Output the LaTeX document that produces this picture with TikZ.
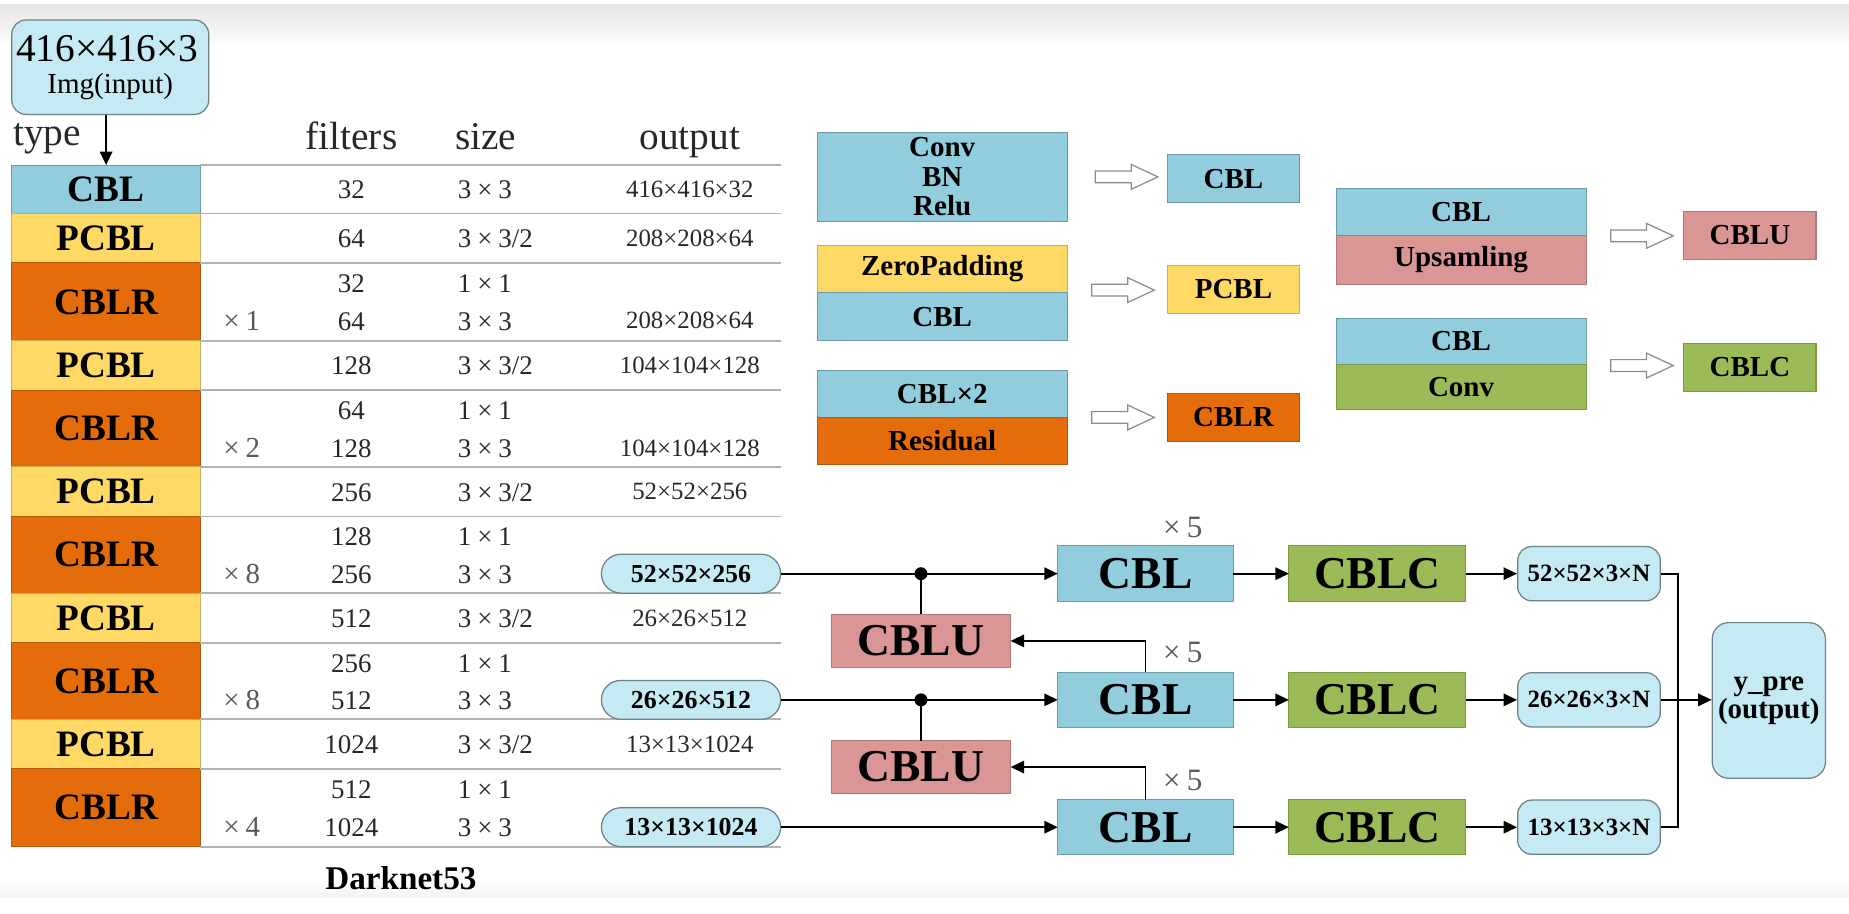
\documentclass[tikz,border=0pt]{standalone}
\usepackage{fontspec}
\setmainfont{Liberation Serif}
\usetikzlibrary{arrows.meta,shapes.arrows,shapes.misc}
\definecolor{cblue}{RGB}{146,205,221}
\definecolor{cyel}{RGB}{255,217,102}
\definecolor{corg}{RGB}{228,108,10}
\definecolor{cpink}{RGB}{217,150,148}
\definecolor{cgreen}{RGB}{155,187,89}
\definecolor{ccyan}{RGB}{198,234,243}
\definecolor{tgray}{RGB}{40,40,40}
\definecolor{sgray}{RGB}{178,178,178}
\newcommand\mytimes{\hspace{0.22em}×\hspace{0.22em}}
\begin{document}
\begin{tikzpicture}[x=0.2mm,y=-0.2mm,
  arr/.style={-{Triangle[length=6.5pt,width=6pt]}, line width=0.8pt},
  ln/.style={line width=0.8pt},
  sep/.style={draw=sgray, line width=0.9pt},
  shp/.style={rectangle, inner sep=0pt, outer sep=0pt, line width=0.5pt, text=black},
  blu/.style={shp, fill=cblue, draw=cblue!75!black},
  yel/.style={shp, fill=cyel, draw=cyel!80!black},
  org/.style={shp, fill=corg, draw=corg!80!black},
  pnk/.style={shp, fill=cpink, draw=cpink!80!black},
  grn/.style={shp, fill=cgreen, draw=cgreen!80!black},
  cell/.style={minimum width=32mm, anchor=north west, font=\bfseries\fontsize{18}{18}\selectfont},
  tt/.style={anchor=base, inner sep=0pt, text=tgray, font=\fontsize{13}{15}\selectfont},
  tw/.style={anchor=base west, inner sep=0pt, text=tgray, font=\fontsize{13}{15}\selectfont},
  to/.style={anchor=base, inner sep=0pt, text=tgray, font=\fontsize{12}{14}\selectfont},
  tm/.style={anchor=base, inner sep=0pt, text=black!65, font=\fontsize{14}{15}\selectfont},
  hd/.style={anchor=base, inner sep=0pt, text=tgray, font=\fontsize{19}{20}\selectfont},
  pill/.style={rounded rectangle, fill=ccyan, draw=ccyan!55!black, line width=0.6pt, inner sep=0pt, minimum width=30.4mm, minimum height=6.6mm, font=\bfseries\fontsize{12.5}{14}\selectfont},
  opill/.style={rectangle, rounded corners=2.4mm, fill=ccyan, draw=ccyan!55!black, line width=0.6pt, inner sep=0pt, minimum width=24.2mm, minimum height=9.2mm, font=\bfseries\fontsize{12}{14}\selectfont},
  big/.style={minimum width=29.8mm, minimum height=9.4mm, font=\bfseries\fontsize{22}{22}\selectfont},
  lg/.style={minimum width=42.4mm, font=\bfseries\fontsize{14}{14.2}\selectfont, align=center},
  sm/.style={minimum width=22.4mm, minimum height=8.2mm, font=\bfseries\fontsize{14}{14.2}\selectfont},
  harrow/.style={single arrow, draw=black!45, fill=white, line width=0.6pt, inner sep=0.9mm, minimum height=10.6mm, single arrow head extend=1.1mm, single arrow tip angle=50}
]
\useasboundingbox (0,0) rectangle (1568,775);
% screenshot bands
\shade[top color=black!10, bottom color=white] (0,4) rectangle (1568,40);
\shade[top color=white, bottom color=black!5] (0,746) rectangle (1568,761);

% input
\node[rectangle, rounded corners=2.4mm, fill=ccyan, draw=ccyan!55!black, line width=0.6pt, minimum width=33.4mm, minimum height=16mm, inner sep=0pt] (inp) at (93.5,57) {};
\node[inner sep=0pt, font=\fontsize{19}{20}\selectfont] (inpa) at (91,41) {416×416×3};
\node[inner sep=0pt, font=\fontsize{14}{16}\selectfont] (inpb) at (93.5,73) {Img(input)};

% headers
\node[hd] (htype) at (40,123) {type};
\node[hd] (hfil) at (298,127) {filters};
\node[hd] (hsize) at (412,127) {size};
\node[hd] (hout) at (585,127) {output};

% type cells
\node[cell, blu, minimum height=8.2mm] (c1) at (10,140) {CBL};
\node[cell, yel, minimum height=8.4mm] (c2) at (c1.south west) {PCBL};
\node[cell, org, minimum height=13.2mm] (c3) at (c2.south west) {CBLR};
\node[cell, yel, minimum height=8.4mm] (c4) at (c3.south west) {PCBL};
\node[cell, org, minimum height=13mm] (c5) at (c4.south west) {CBLR};
\node[cell, yel, minimum height=8.4mm] (c6) at (c5.south west) {PCBL};
\node[cell, org, minimum height=13mm] (c7) at (c6.south west) {CBLR};
\node[cell, yel, minimum height=8.4mm] (c8) at (c7.south west) {PCBL};
\node[cell, org, minimum height=13mm] (c9) at (c8.south west) {CBLR};
\node[cell, yel, minimum height=8.4mm] (c10) at (c9.south west) {PCBL};
\node[cell, org, minimum height=13.2mm] (c11) at (c10.south west) {CBLR};

\draw[arr] (inp.south -| c1.north) -- (c1.north);

% separators
\coordinate (rx) at (662,0);
\foreach \c in {c1,c2,c3,c4,c5,c6,c7,c8,c9,c10,c11}{
  \draw[sep] (\c.north east) -- (\c.north east -| rx);
}
\draw[sep] (c11.south east) -- (c11.south east -| rx);

% row 1
\node[tt] (f1) at (298,168.5) {32};
\node[tw] (s1) at (388,168.5) {3\mytimes 3};
\node[to] (o1t) at (585,167.5) {416×416×32};
% row 2
\node[tt] (f2) at (298,210) {64};
\node[tw] (s2) at (388,210) {3\mytimes 3/2};
\node[to] (o2t) at (585,209) {208×208×64};
% row 3
\node[tt] (f3a) at (298,248) {32};
\node[tw] (s3a) at (388,248) {1\mytimes 1};
\node[tm] (m3) at (205,280) {×\hspace{0.2em}1};
\node[tt] (f3b) at (298,280) {64};
\node[tw] (s3b) at (388,280) {3\mytimes 3};
\node[to] (o3t) at (585,279) {208×208×64};
% row 4
\node[tt] (f4) at (298,318) {128};
\node[tw] (s4) at (388,318) {3\mytimes 3/2};
\node[to] (o4t) at (585,317) {104×104×128};
% row 5
\node[tt] (f5a) at (298,356) {64};
\node[tw] (s5a) at (388,356) {1\mytimes 1};
\node[tm] (m5) at (205,388) {×\hspace{0.2em}2};
\node[tt] (f5b) at (298,388) {128};
\node[tw] (s5b) at (388,388) {3\mytimes 3};
\node[to] (o5t) at (585,387) {104×104×128};
% row 6
\node[tt] (f6) at (298,425) {256};
\node[tw] (s6) at (388,425) {3\mytimes 3/2};
\node[to] (o6t) at (585,424) {52×52×256};
% row 7
\node[tt] (f7a) at (298,463) {128};
\node[tw] (s7a) at (388,463) {1\mytimes 1};
\node[tm] (m7) at (205,495) {×\hspace{0.2em}8};
\node[tt] (f7b) at (298,495) {256};
\node[tw] (s7b) at (388,495) {3\mytimes 3};
% row 8
\node[tt] (f8) at (298,532) {512};
\node[tw] (s8) at (388,532) {3\mytimes 3/2};
\node[to] (o8t) at (585,531) {26×26×512};
% row 9
\node[tt] (f9a) at (298,570) {256};
\node[tw] (s9a) at (388,570) {1\mytimes 1};
\node[tm] (m9) at (205,602) {×\hspace{0.2em}8};
\node[tt] (f9b) at (298,602) {512};
\node[tw] (s9b) at (388,602) {3\mytimes 3};
% row 10
\node[tt] (f10) at (298,639) {1024};
\node[tw] (s10) at (388,639) {3\mytimes 3/2};
\node[to] (o10t) at (585,638) {13×13×1024};
% row 11
\node[tt] (f11a) at (298,677) {512};
\node[tw] (s11a) at (388,677) {1\mytimes 1};
\node[tm] (m11) at (205,709) {×\hspace{0.2em}4};
\node[tt] (f11b) at (298,709) {1024};
\node[tw] (s11b) at (388,709) {3\mytimes 3};

\node[inner sep=0pt, font=\bfseries\fontsize{16}{18}\selectfont] (dk) at (340,745) {Darknet53};

% pills
\node[pill] (p1) at (586,486.5) {52×52×256};
\node[pill] (p2) at (586,593.5) {26×26×512};
\node[pill] (p3) at (586,701.5) {13×13×1024};

% head
\node[blu, big] (b1) at (971.5,486.5) {CBL};
\node[blu, big] (b2) at (971.5,593.5) {CBL};
\node[blu, big] (b3) at (971.5,701.5) {CBL};
\node[grn, big, minimum width=30mm] (k1) at (1168,486.5) {CBLC};
\node[grn, big, minimum width=30mm] (k2) at (1168,593.5) {CBLC};
\node[grn, big, minimum width=30mm] (k3) at (1168,701.5) {CBLC};
\node[pnk, big, minimum width=30.4mm, minimum height=9mm] (u1) at (781,543.5) {CBLU};
\node[pnk, big, minimum width=30.4mm, minimum height=9mm] (u2) at (781,650.5) {CBLU};
\node[opill] (q1) at (1347.5,486.5) {52×52×3×N};
\node[opill] (q2) at (1347.5,593.5) {26×26×3×N};
\node[opill] (q3) at (1347.5,701.5) {13×13×3×N};
\node[rectangle, rounded corners=2.8mm, fill=ccyan, draw=ccyan!55!black, line width=0.6pt, minimum width=19.2mm, minimum height=26.4mm, inner sep=0pt, align=center, font=\bfseries\fontsize{14}{8.5}\selectfont] (ypre) at (1500,594) {y\_pre\\(output)};

\node[tm, anchor=center, font=\fontsize{15}{16}\selectfont] (x1) at (1003,447) {×\hspace{0.2em}5};
\node[tm, anchor=center, font=\fontsize{15}{16}\selectfont] (x2) at (1003,553) {×\hspace{0.2em}5};
\node[tm, anchor=center, font=\fontsize{15}{16}\selectfont] (x3) at (1003,662) {×\hspace{0.2em}5};

% connectors
\coordinate (d1) at (p1.east -| u1.north);
\coordinate (d2) at (p2.east -| u2.north);
\draw[arr] (p1.east) -- (b1.west);
\draw[arr] (p2.east) -- (b2.west);
\draw[arr] (p3.east) -- (b3.west);
\draw[ln] (d1) -- (u1.north);
\draw[ln] (d2) -- (u2.north);
\fill (d1) circle (1.1mm);
\fill (d2) circle (1.1mm);
\draw[arr] (b2.north) |- (u1.east);
\draw[arr] (b3.north) |- (u2.east);
\draw[arr] (b1.east) -- (k1.west);
\draw[arr] (b2.east) -- (k2.west);
\draw[arr] (b3.east) -- (k3.west);
\draw[arr] (k1.east) -- (q1.west);
\draw[arr] (k2.east) -- (q2.west);
\draw[arr] (k3.east) -- (q3.west);
\coordinate (jx) at (1423,594);
\draw[ln] (q1.east) -- (q1.east -| jx) -- (q3.east -| jx) -- (q3.east);
\draw[arr] (q2.east) -- (q2.east -| ypre.west);

% legend
\node[blu, lg, minimum height=15.2mm] (lconv) at (799,150) {Conv\\BN\\Relu};
\node[harrow] (h1) at (950,150) {};
\node[blu, sm] (lcbl) at (1046,151.5) {CBL};

\node[yel, lg, minimum height=8mm] (lzp) at (799,228) {ZeroPadding};
\node[blu, lg, minimum height=8.2mm] (lzc) at (799,268.5) {CBL};
\node[harrow] (h2) at (947,246) {};
\node[yel, sm] (lpcbl) at (1046,245.5) {PCBL};

\node[blu, lg, minimum height=8mm] (lr1) at (799,334) {CBL×2};
\node[org, lg, minimum height=8mm] (lr2) at (799,374) {Residual};
\node[harrow] (h3) at (947,354) {};
\node[org, sm] (lcblr) at (1046,354) {CBLR};

\node[blu, lg, minimum height=8mm] (lu1) at (1239,180) {CBL};
\node[pnk, lg, minimum height=8.2mm] (lu2) at (1239,220.5) {Upsamling};
\node[harrow] (h4) at (1387,200) {};
\node[pnk, sm] (lcblu) at (1484,199.5) {CBLU};

\node[blu, lg, minimum height=7.8mm] (lc1) at (1239,289.5) {CBL};
\node[grn, lg, minimum height=7.6mm] (lc2) at (1239,328) {Conv};
\node[harrow] (h5) at (1387,310) {};
\node[grn, sm] (lcblc) at (1484,311.5) {CBLC};
\end{tikzpicture}
\end{document}
